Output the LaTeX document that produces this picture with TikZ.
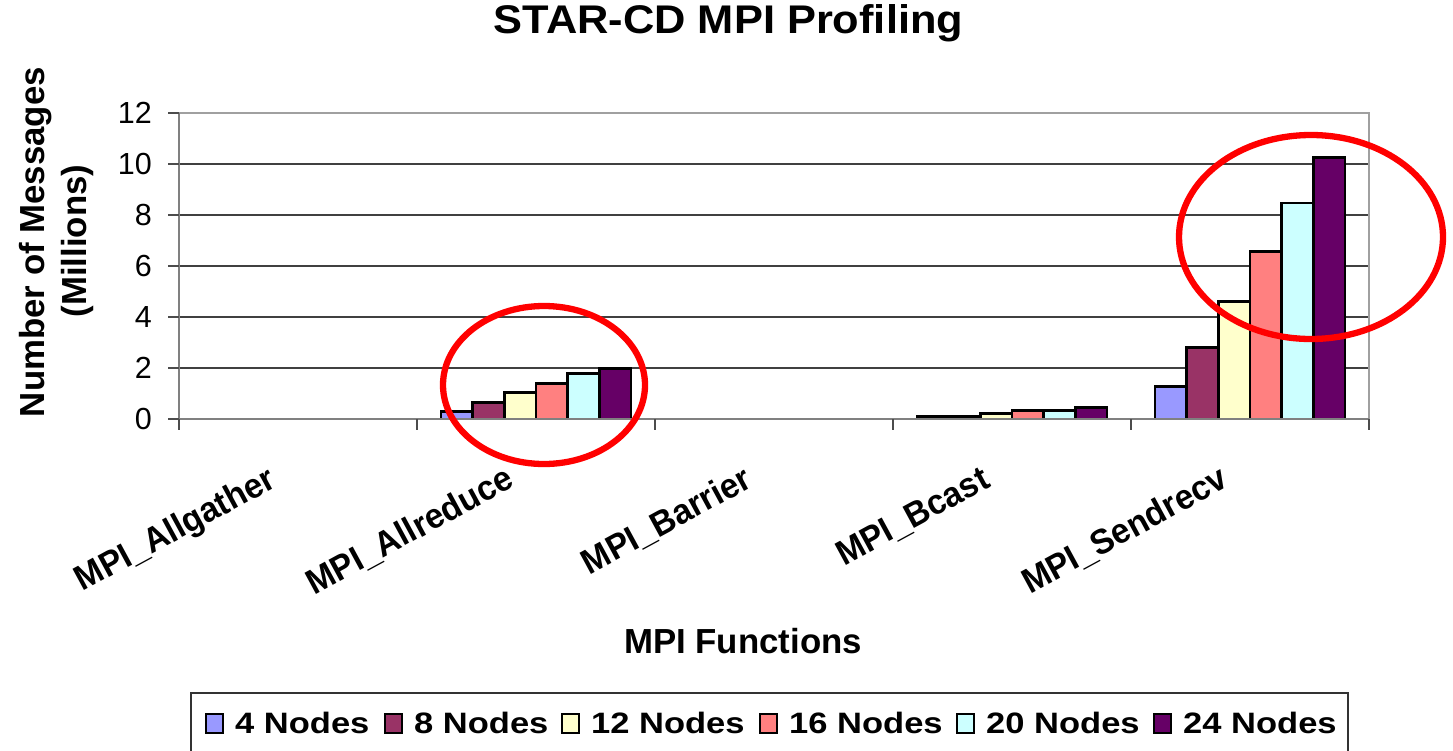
\documentclass[tikz,border=0pt]{standalone}
\usepackage{fontspec}
\setmainfont{Liberation Sans}
\usepackage{graphicx}
\definecolor{cS0}{HTML}{9999FF}
\definecolor{cS1}{HTML}{993366}
\definecolor{cS2}{HTML}{FFFFCC}
\definecolor{cS3}{HTML}{FF8080}
\definecolor{cS4}{HTML}{CCFFFF}
\definecolor{cS5}{HTML}{660066}
\definecolor{axisgrey}{HTML}{808080}
\definecolor{bordergrey}{HTML}{A0A0A0}
\tikzset{
  gridline/.style={draw=black!75, line width=1.2},
  axisline/.style={draw=axisgrey, line width=2.2},
  tickline/.style={draw=black!70, line width=1.2},
  barbox/.style={draw=black, line width=2.9},
  ring/.style={draw=red, line width=6.3},
  ticklabel/.style={anchor=east, inner sep=0pt, font=\fontsize{30.5}{34}\selectfont},
  catlabel/.style={anchor=base east, inner sep=0pt, rotate=28.5, font=\fontsize{35}{38}\selectfont\bfseries},
  axistitle/.style={inner sep=0pt, font=\fontsize{34.8}{40}\selectfont\bfseries},
  legtext/.style={anchor=base west, inner sep=0pt, font=\fontsize{29.5}{32}\selectfont\bfseries},
  legmark/.style={draw=black, line width=2, minimum width=17pt, minimum height=19pt, inner sep=0pt, anchor=north west},
}
\begin{document}
\begin{tikzpicture}[x=1pt,y=-1pt]
\useasboundingbox[fill=white] (0,0) rectangle (1453,750);

% title
\node[anchor=base, inner sep=0pt, font=\fontsize{40}{44}\selectfont\bfseries] (title) at (728.5,33) {\scalebox{1.085}[1]{STAR-CD MPI Profiling}};

% plot frame and grid
\coordinate (pTL) at (179,113);
\coordinate (pTR) at (1369,113);
\coordinate (pBL) at (179,419);
\coordinate (pBR) at (1369,419);
\foreach \v in {2,4,6,8,10} {
  \draw[gridline] (179,{419-25.5*\v}) -- (1369,{419-25.5*\v});
}
\draw[draw=bordergrey, line width=2.4] (pTL) -- (pTR) -- (pBR);

% bars
\foreach \c/\vals in {1/{0.31,0.65,1.05,1.38,1.78,1.99},
                      3/{0.1,0.1,0.22,0.33,0.33,0.44},
                      4/{1.27,2.82,4.6,6.58,8.47,10.24}} {
  \foreach \v [count=\i from 0] in \vals {
    \filldraw[barbox, fill=cS\i] ({179+238*\c+24+31.67*\i},419) rectangle ++(31.67,{-25.5*\v});
  }
}

% axes
\draw[axisline] (pTL) -- (pBL) -- (pBR);
\foreach \v in {0,2,...,12} {
  \draw[tickline] (168,{419-25.5*\v}) -- (179,{419-25.5*\v});
  \node[ticklabel] (yt\v) at (152,{419-25.5*\v}) {\v};
}
\foreach \k in {0,...,5} {
  \draw[tickline] ({179+238*\k},419) -- ({179+238*\k},430);
}

% category labels
\node[catlabel] (c0) at ({179+119-20},486) {\scalebox{0.95}[1]{MPI\_Allgather}};
\node[catlabel] (c1) at ({179+238+119-20},486) {\scalebox{0.95}[1]{MPI\_Allreduce}};
\node[catlabel] (c2) at ({179+2*238+119-20},486) {\scalebox{0.95}[1]{MPI\_Barrier}};
\node[catlabel] (c3) at ({179+3*238+119-20},486) {\scalebox{0.95}[1]{MPI\_Bcast}};
\node[catlabel] (c4) at ({179+4*238+119-20},486) {\scalebox{0.95}[1]{MPI\_Sendrecv}};

% axis titles
\node[axistitle, anchor=base] (xtitle) at (743,653) {MPI Functions};
\node[axistitle, anchor=base, rotate=90] (ytitle1) at (44,242) {Number of Messages};
\node[axistitle, anchor=base, rotate=90] (ytitle2) at (86,241) {(Millions)};

% highlight ellipses
\draw[ring] (544,385) ellipse [x radius=101, y radius=79];
\draw[ring] (1311,237) ellipse [x radius=132, y radius=102];

% legend
\draw[draw=black!80, line width=1.5] (191,770) -- (191,693) -- (1348,693) -- (1348,770);
\foreach \mx/\lab [count=\i from 0] in {205/4 Nodes, 384/8 Nodes, 561/12 Nodes, 759/16 Nodes, 956/20 Nodes, 1153/24 Nodes} {
  \node[legmark, fill=cS\i] (lm\i) at (\mx,713) {};
  \node[legtext] (lt\i) at ({\mx+30},733) {\scalebox{1.17}[1]{\lab}};
}
\end{tikzpicture}
\end{document}
